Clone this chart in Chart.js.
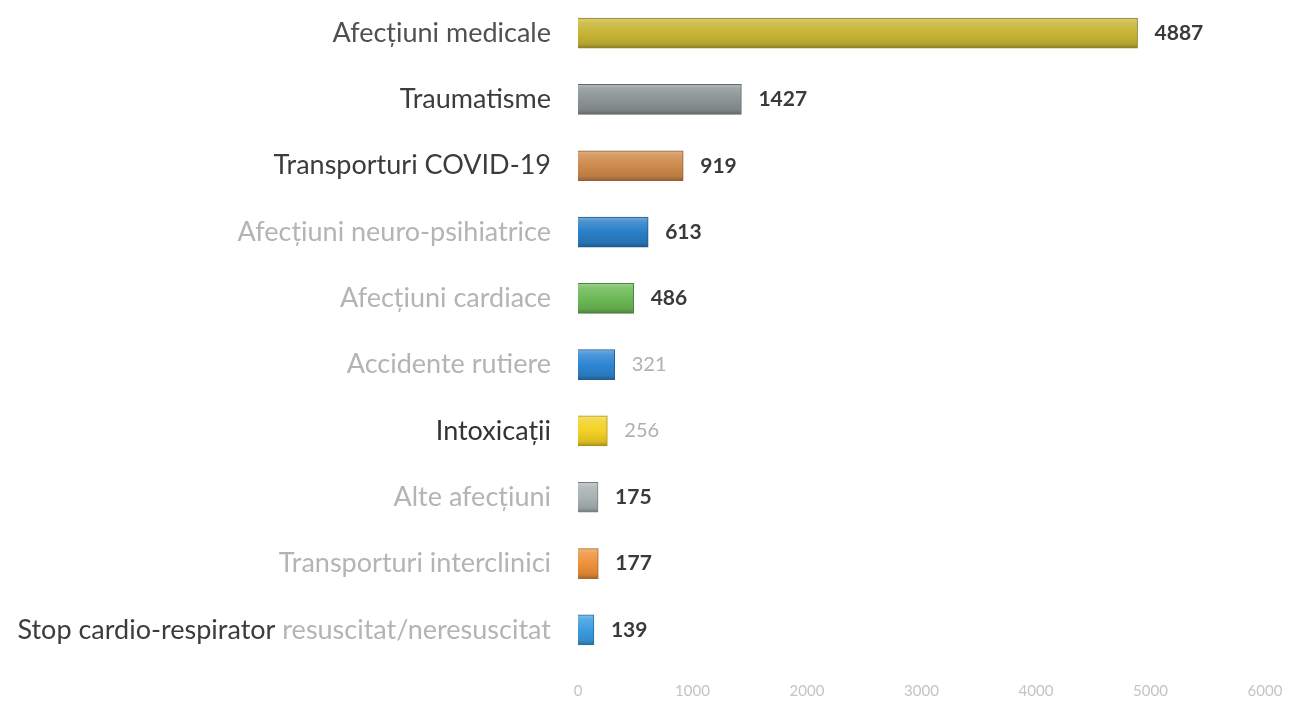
<!DOCTYPE html>
<html>
<head>
<meta charset="utf-8">
<script src="https://cdn.jsdelivr.net/npm/chart.js@4"></script>
<style>
  html, body { margin: 0; padding: 0; background: #fff; }
  #wrap { width: 1291px; height: 703px; position: relative; }
</style>
</head>
<body>
<div id="wrap"><canvas id="cazuriChart"></canvas></div>
<script>
const categories = [
  "Afecțiuni medicale",
  "Traumatisme",
  "Transporturi COVID-19",
  "Afecțiuni neuro-psihiatrice",
  "Afecțiuni cardiace",
  "Accidente rutiere",
  "Intoxicații",
  "Alte afecțiuni",
  "Transporturi interclinici",
  "Stop cardio-respirator resuscitat/neresuscitat"
];
const values = [4887, 1427, 919, 613, 486, 321, 256, 175, 177, 139];
const xTicks = [0, 1000, 2000, 3000, 4000, 5000, 6000];

// stiluri
const barColors = ["#c8b535", "#8c9496", "#cf8a4c", "#2a7fc6", "#6cba56", "#2f86d3", "#f3d124", "#a8b3b3", "#ef913b", "#3b9de0"];
// eticheta impartita in [parte inchisa, parte deschisa]
const labelParts = [
  ["Afecțiuni medicale", ""],
  ["Traumatisme", ""],
  ["Transporturi COVID-19", ""],
  ["", "Afecțiuni neuro-psihiatrice"],
  ["", "Afecțiuni cardiace"],
  ["", "Accidente rutiere"],
  ["Intoxicații", ""],
  ["", "Alte afecțiuni"],
  ["", "Transporturi interclinici"],
  ["Stop cardio-respirator ", "resuscitat/neresuscitat"]
];
const darkLabel = ["#505050", "#3c3c3c", "#3c3c3c", null, null, null, "#333333", null, null, "#3c3c3c"];
const lightValue = [false, false, false, false, false, true, true, false, false, false];

const FONT = "Lato, 'Open Sans', sans-serif";
const BAR_H = 30;

function shade(hex, amt) {
  const n = parseInt(hex.slice(1), 16);
  let r = (n >> 16) & 255, g = (n >> 8) & 255, b = n & 255;
  const f = (c) => Math.max(0, Math.min(255, Math.round(amt >= 0 ? c + (255 - c) * amt : c * (1 + amt))));
  return "rgb(" + f(r) + "," + f(g) + "," + f(b) + ")";
}

function barFill(context) {
  const chart = context.chart;
  const base = barColors[context.dataIndex];
  if (!chart.chartArea || !chart.scales.y) return base;
  const cy = chart.scales.y.getPixelForValue(context.dataIndex);
  const g = chart.ctx.createLinearGradient(0, cy - BAR_H / 2, 0, cy + BAR_H / 2);
  g.addColorStop(0, shade(base, 0.35));
  g.addColorStop(0.15, shade(base, 0.15));
  g.addColorStop(0.5, base);
  g.addColorStop(0.85, shade(base, -0.1));
  g.addColorStop(1, shade(base, -0.3));
  return g;
}

const labelPlugin = {
  id: "labelPlugin",
  afterDraw(chart) {
    const ctx = chart.ctx;
    const y = chart.scales.y;
    const x = chart.scales.x;
    ctx.save();
    ctx.textBaseline = "middle";
    categories.forEach((c, i) => {
      const py = y.getPixelForValue(i);
      ctx.font = "27px " + FONT;
      ctx.textAlign = "left";
      const [dark, light] = labelParts[i];
      const wDark = ctx.measureText(dark).width;
      const wLight = ctx.measureText(light).width;
      const sx = chart.chartArea.left - 27 - wDark - wLight;
      if (dark) {
        ctx.fillStyle = darkLabel[i];
        ctx.fillText(dark, sx, py);
      }
      if (light) {
        ctx.fillStyle = "#b4b4b4";
        ctx.fillText(light, sx + wDark, py);
      }
      const px = x.getPixelForValue(values[i]);
      if (lightValue[i]) {
        ctx.font = "20px " + FONT;
        ctx.fillStyle = "#b0b0b0";
      } else {
        ctx.font = "bold 21px " + FONT;
        ctx.fillStyle = "#3a3a3a";
      }
      ctx.fillText(String(values[i]), px + 17, py);
    });
    ctx.restore();
  }
};

new Chart(document.getElementById("cazuriChart"), {
  type: "bar",
  data: {
    labels: categories,
    datasets: [{
      data: values,
      backgroundColor: barFill,
      borderColor: barColors.map((c) => shade(c, -0.3)),
      borderWidth: 1,
      barThickness: BAR_H
    }]
  },
  options: {
    indexAxis: "y",
    responsive: true,
    maintainAspectRatio: false,
    animation: false,
    layout: { padding: { top: 0, right: 26, bottom: 0, left: 0 } },
    plugins: {
      legend: { display: false },
      tooltip: { enabled: false }
    },
    scales: {
      x: {
        min: 0,
        max: 6000,
        afterBuildTicks: (axis) => { axis.ticks = xTicks.map((v) => ({ value: v })); },
        afterFit: (axis) => {
          axis.height = 40;
          axis.paddingLeft = 0;
          axis.paddingRight = 0;
        },
        grid: { display: false, drawTicks: false },
        border: { display: false },
        ticks: {
          color: "#c4c4c4",
          padding: 19,
          maxRotation: 0,
          font: { family: FONT, size: 15 },
          callback: (v) => String(v)
        }
      },
      y: {
        grid: { display: false, drawTicks: false },
        border: { display: false },
        ticks: { display: false },
        afterFit: (axis) => { axis.width = 578; }
      }
    }
  },
  plugins: [labelPlugin]
});
</script>
</body>
</html>
